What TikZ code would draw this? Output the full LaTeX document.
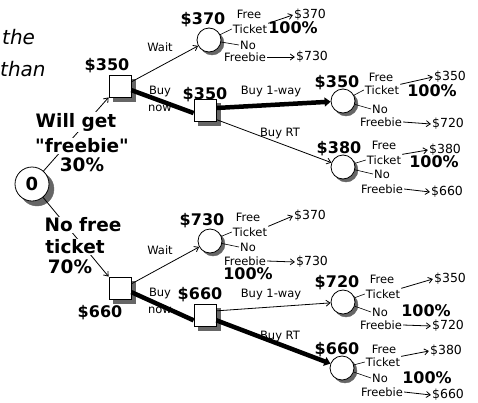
\documentclass[tikz,border=0pt]{standalone}
\usepackage{fontspec}
\setmainfont{DejaVu Sans}
\usetikzlibrary{arrows.meta}
\newcommand{\dq}{\XeTeXglyph\XeTeXcharglyph"22\relax}

\begin{document}
\begin{tikzpicture}[x=1pt,y=-1pt,
  dec/.style={draw,fill=white,minimum size=22pt,inner sep=0pt,line width=0.8pt},
  chn/.style={circle,draw,fill=white,minimum size=24pt,inner sep=0pt,line width=0.8pt},
  shd/.style={fill=black!60,draw=black!60,line width=0.4pt,inner sep=0pt},
  amt/.style={font=\bfseries\fontsize{16}{16}\selectfont,inner sep=1pt},
  big/.style={font=\bfseries\fontsize{18.5}{18.5}\selectfont,fill=white,inner sep=1pt},
  lbl/.style={font=\fontsize{11.5}{12}\selectfont,inner sep=1pt},
  pay/.style={font=\fontsize{12.5}{13}\selectfont,inner sep=1pt},
  arr/.style={line width=0.8pt,-{Straight Barb[length=4pt,width=6pt]}},
  heavy/.style={line width=4.5pt},
  tip/.style={-{Triangle[length=6pt,width=9pt]}}]
\useasboundingbox (0,0) rectangle (478,402);

% leftover text at the left margin
\node[anchor=west,font=\itshape\fontsize{20}{20}\selectfont,inner sep=0pt] (txa) at (2,37) {the};
\node[anchor=west,font=\itshape\fontsize{20}{20}\selectfont,inner sep=0pt] (txb) at (0,69) {than};

% shadows
\node[shd,circle,minimum size=34pt] (s0) at (37,189) {};
\node[shd,minimum size=22pt] (sd1) at (124,90) {}; \node[shd,minimum size=22pt] (sd2) at (209,114) {};
\node[shd,minimum size=22pt] (sd3) at (124,292) {}; \node[shd,minimum size=22pt] (sd4) at (209,319) {};
\node[shd,circle,minimum size=24pt] (sc1) at (212,43) {}; \node[shd,circle,minimum size=24pt] (sc2) at (346,104) {};
\node[shd,circle,minimum size=24pt] (sc3) at (346,170) {}; \node[shd,circle,minimum size=24pt] (sc4) at (213,244) {};
\node[shd,circle,minimum size=24pt] (sc5) at (346,305) {}; \node[shd,circle,minimum size=24pt] (sc6) at (345,371) {};

% decisions and chances
\node[chn,minimum size=34pt,font=\bfseries\fontsize{18}{18}\selectfont] (c0) at (32,184) {0};
\node[dec] (d1) at (120,86) {}; \node[dec] (d2) at (205,110) {};
\node[dec] (d3) at (120,288) {}; \node[dec] (d4) at (205,315) {};
\node[chn] (c1) at (209,40) {}; \node[chn] (c2) at (343,101) {}; \node[chn] (c3) at (343,167) {};
\node[chn] (c4) at (210,241) {}; \node[chn] (c5) at (343,302) {}; \node[chn] (c6) at (342,368) {};

% values
\node[amt] (vd1) at (107,66) {\$350}; \node[amt] (vd2) at (205,95) {\$350};
\node[amt] (vd3) at (100,313) {\$660}; \node[amt] (vd4) at (200,295) {\$660};
\node[amt] (v1) at (203,20) {\$370}; \node[amt] (v2) at (337,83) {\$350}; \node[amt] (v3) at (339,149) {\$380};
\node[amt] (v4) at (202,221) {\$730}; \node[amt] (v5) at (337,283) {\$720}; \node[amt] (v6) at (337,350) {\$660};

% branch labels
\node[lbl] (w1) at (160,47) {Wait}; \node[lbl] (bn1) at (160,92) {Buy}; \node[lbl] (nw1) at (160,108) {now};
\node[lbl] (ow1) at (271,91) {Buy 1-way}; \node[lbl] (rt1) at (280,133) {Buy RT};
\node[lbl] (w2) at (160,250) {Wait}; \node[lbl] (bn2) at (160,293) {Buy}; \node[lbl] (nw2) at (160,310) {now};
\node[lbl] (ow2) at (271,294) {Buy 1-way}; \node[lbl] (rt2) at (280,336) {Buy RT};

% connectors
\draw[arr] (c0) -- (d1.south west);
\draw[arr] (c0) -- (d3.north west);
\draw[arr] (d1.20) -- (c1);
\draw[heavy] (d1.-20) -- (d2.-165);
\draw[heavy,tip] (d2.10) -- (c2);
\draw[arr] (d2.-40) -- (c3);
\draw[arr] (d3.20) -- (c4);
\draw[heavy] (d3.-20) -- (d4.-155);
\draw[arr] (d4.20) -- (c5);
\draw[heavy,tip] (d4.-25) -- (c6);

% root labels
\node[big] (wg) at (76,122) {Will get}; \node[big] (fr) at (82,146) {\dq freebie\dq}; \node[big] (p30) at (82,165) {30\%};
\node[big] (nf) at (83,225) {No free}; \node[big] (tk) at (75,247) {ticket}; \node[big] (p70) at (70,267) {70\%};

% outcomes of each chance
\node[lbl] (f1) at (249,14) {Free}; \node[lbl] (t1) at (250,29) {Ticket}; \node[lbl] (n1) at (248,45) {No}; \node[lbl] (fb1) at (245,57) {Freebie};
\node[pay] (a1) at (310,15) {\$370}; \node[pay] (b1) at (312,57) {\$730}; \node[amt] (p1) at (293,28) {100\%};
\node[lbl] (f2) at (381,77) {Free}; \node[lbl] (t2) at (382,90) {Ticket}; \node[lbl] (n2) at (380,109) {No}; \node[lbl] (fb2) at (381,122) {Freebie};
\node[pay] (a2) at (450,77) {\$350}; \node[pay] (b2) at (448,124) {\$720}; \node[amt] (p2) at (432,91) {100\%};
\node[lbl] (f3) at (384,145) {Free}; \node[lbl] (t3) at (384,160) {Ticket}; \node[lbl] (n3) at (382,174) {No}; \node[lbl] (fb3) at (382,189) {Freebie};
\node[pay] (a3) at (445,150) {\$380}; \node[pay] (b3) at (447,192) {\$660}; \node[amt] (p3) at (434,162) {100\%};
\node[lbl] (f4) at (248,217) {Free}; \node[lbl] (t4) at (250,232) {Ticket}; \node[lbl] (n4) at (248,247) {No}; \node[lbl] (fb4) at (245,261) {Freebie};
\node[pay] (a4) at (310,216) {\$370}; \node[pay] (b4) at (312,262) {\$730}; \node[amt] (p4) at (248,274) {100\%};
\node[lbl] (f5) at (382,279) {Free}; \node[lbl] (t5) at (383,294) {Ticket}; \node[lbl] (n5) at (380,312) {No}; \node[lbl] (fb5) at (381,325) {Freebie};
\node[pay] (a5) at (450,279) {\$350}; \node[pay] (b5) at (448,326) {\$720}; \node[amt] (p5) at (426,311) {100\%};
\node[lbl] (f6) at (384,349) {Free}; \node[lbl] (t6) at (383,362) {Ticket}; \node[lbl] (n6) at (380,378) {No}; \node[lbl] (fb6) at (382,392) {Freebie};
\node[pay] (a6) at (446,351) {\$380}; \node[pay] (b6) at (448,395) {\$660}; \node[amt] (p6) at (427,378) {100\%};

\draw[line width=0.6pt] (c1) -- (t1.west) (c1) -- (n1.west); \draw[arr] (t1.north east) -- (a1.west); \draw[arr] (fb1.east) -- (b1.west);
\draw[line width=0.6pt] (c2) -- (t2.west) (c2) -- (n2.west); \draw[arr] (t2.north east) -- (a2.west); \draw[arr] (fb2.east) -- (b2.west);
\draw[line width=0.6pt] (c3) -- (t3.west) (c3) -- (n3.west); \draw[arr] (t3.north east) -- (a3.west); \draw[arr] (fb3.east) -- (b3.west);
\draw[line width=0.6pt] (c4) -- (t4.west) (c4) -- (n4.west); \draw[arr] (t4.north east) -- (a4.west); \draw[arr] (fb4.east) -- (b4.west);
\draw[line width=0.6pt] (c5) -- (t5.west) (c5) -- (n5.west); \draw[arr] (t5.north east) -- (a5.west); \draw[arr] (fb5.east) -- (b5.west);
\draw[line width=0.6pt] (c6) -- (t6.west) (c6) -- (n6.west); \draw[arr] (t6.north east) -- (a6.west); \draw[arr] (fb6.east) -- (b6.west);
\end{tikzpicture}
\end{document}
